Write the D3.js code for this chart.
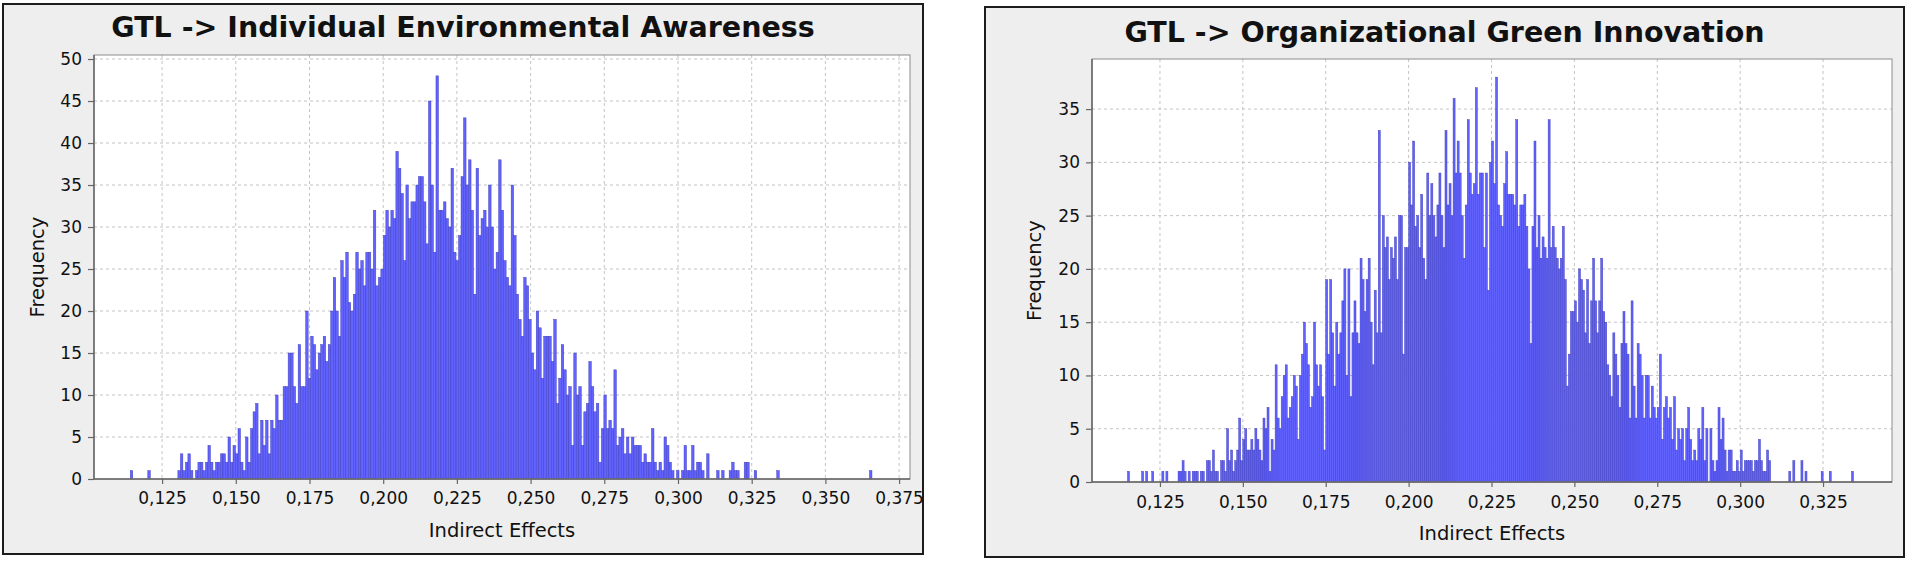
<!DOCTYPE html>
<html><head><meta charset="utf-8">
<script src="https://cdn.jsdelivr.net/npm/d3@7"></script>
<style>
body{margin:0;background:#fff;}
svg{display:block;}
text{font-family:"DejaVu Sans",sans-serif;fill:#111;}
</style>
</head><body>
<svg id="chart" width="1908" height="562"></svg>
<script>
// ---------- DATA ----------
const titleLeft = "GTL -> Individual Environmental Awareness";
const titleRight = "GTL -> Organizational Green Innovation";
const xAxisLabel = "Indirect Effects";
const yAxisLabel = "Frequency";

// histogram bins: value of bin i starts at start + i*width
const startLeft = 0.1142;
const binWidthLeft = 0.00085;
const countsLeft = [
1,0,0,0,0,0,0,1,0,0, 0,0,0,0,0,0,0,0,0,1, 3,1,2,3,1,0,1,2,2,1,
2,4,2,1,2,2,3,3,2,5, 2,4,3,6,2,1,5,2,6,8, 9,3,7,4,7,3,7,6,10,7,
7,11,11,15,15,11,9,
16,11,11,20,12,17,16,13,15,16, 17,14,16,20,24,20,17,26,24,27,
21,20,22,27,25,26,23,27,27,25, 32,23,24,25,29,32,30,32,31,39,
37,34,26,35,31,33,33,35,36,36, 33,28,45,35,27,48,32,32,33,31,
30,37,27,26,29,36,43,35,38,32, 22,37,29,31,32,30,35,30,25,27,
38,32,26,24,23,35,29,22,19,17, 24,23,19,15,13,20,18,12,17,17,
17,14,19,9,12,16,13,10,11,4, 15,10,11,4,8,9,14,11,8,9,
2,6,10,6,7,6,13,4,5,6, 3,5,
3,5,4,4,4,2,3,2,2,6, 2,1,2,1,5,4,2,1,0,1, 0,1,4,1,1,4,1,2,2,1,
0,3,0,0,0,1,0,1,0,0, 1,2,1,1,0,0,2,2,0,0, 1,0,0,0,0,0,0,0,0,1,
0,0,0,0,0,0,0,0,0,0, 0,0,0,0,0,0,0,0,0,0, 0,0,0,0,0,0,0,0,0,0, 0,0,0,0,0,0,
1
];

const startRight = 0.1152;
const binWidthRight = 0.00061;
const countsRight = [
1,0,0,0,0,0,0,1,0,1, 0,0,1,0,0,0,0,1,0,1, 0,0,0,0,0,1,1,2,1,0,
1,0,1,1,1,0,1,1,0,2, 2,1,3,1,1,0,2,2,1,5, 2,3,1,2,3,6,2,4,5,3,
3,4,3,5,4,3,2,6,5,7, 1,4,3,11,6,5,8,10,11,6, 7,8,10,9,4,10,12,15,13,11,
7,8,15,11,9,
11,8,3,19,12,19,14,9,15,12, 14,17,20,10,20,8,14,17,14,13,
21,19,16,19,21,15,11,18,14,33, 14,25,22,23,19,22,21,23,19,25,
25,12,22,22,30,26,32,24,25,22, 27,21,19,29,25,28,25,23,26,29,
25,22,33,26,28,25,36,29,32,29, 25,21,26,34,29,27,28,37,27,29,
29,22,29,18,30,32,28,38,26,25, 24,28,31,27,27,27,26,34,24,26,
26,27,24,20,13,24,32,22,25,21, 23,22,21,34,22,24,22,21,20,21,
24,19,9,12,16,16,17,15,20,19, 18,14,19,13,17,21,17,14,17,21,
16,15,11,10,8,14,12,10,7,13, 16,13,12,6,17,9,6,13,12,10,
6,10,10,6,9,7,6,7,12,4, 7,8,6,7,4,8,3,5,4,5,
2,5,7,4,2,3,2,5,4,7, 2,5,0,5,2,1,2,7,
4,6,3,1,3,3,1,1,2,1, 3,1,2,2,2,2,1,2,2,4, 2,1,1,3,2,0,0,0,0,0,
0,0,0,0,1,0,2,0,0,0, 2,0,1,0,0,0,0,0,0,0, 1,0,0,0,1,0,0,0,0,0,
0,0,0,0,0,1
];

const xTicksLeft = [0.125,0.150,0.175,0.200,0.225,0.250,0.275,0.300,0.325,0.350,0.375];
const yTicksLeft = [0,5,10,15,20,25,30,35,40,45,50];
const xTicksRight = [0.125,0.150,0.175,0.200,0.225,0.250,0.275,0.300,0.325];
const yTicksRight = [0,5,10,15,20,25,30,35];

// ---------- LAYOUT ----------
const panels = [
  {title:titleLeft, counts:countsLeft, start:startLeft, w:binWidthLeft,
   xTicks:xTicksLeft, yTicks:yTicksLeft,
   frame:{x0:3,y0:4,x1:923,y1:554}, plot:{x0:94,y0:55,x1:910,y1:479},
   xDomain:[0.1019,0.3787], yMax:50.48,
   titleY:37, xLabelY:537, yLabelX:44, xTickPad:8},
  {title:titleRight, counts:countsRight, start:startRight, w:binWidthRight,
   xTicks:xTicksRight, yTicks:yTicksRight,
   frame:{x0:985,y0:7,x1:1904,y1:557}, plot:{x0:1092,y0:59,x1:1892,y1:482},
   xDomain:[0.1045,0.3458], yMax:39.7,
   titleY:42, xLabelY:540, yLabelX:1041, xTickPad:9}
];

const comma = d3.formatLocale({decimal:",", thousands:".", grouping:[3], currency:["",""]});
const fmtX = comma.format(".3f");
const fmtY = d3.format("d");

const svg = d3.select("#chart");

panels.forEach(p => {
  const g = svg.append("g");
  const f = p.frame, pl = p.plot;
  g.append("rect").attr("x",f.x0).attr("y",f.y0).attr("width",f.x1-f.x0).attr("height",f.y1-f.y0)
    .attr("fill","#eeeeee").attr("stroke","#1c1c1c").attr("stroke-width",2);

  g.append("text").attr("x",(f.x0+f.x1)/2).attr("y",p.titleY).attr("text-anchor","middle")
    .attr("font-size",28.5).attr("font-weight","bold").text(p.title);

  const x = d3.scaleLinear().domain(p.xDomain).range([pl.x0, pl.x1]);
  const y = d3.scaleLinear().domain([0,p.yMax]).range([pl.y1, pl.y0]);

  g.append("rect").attr("x",pl.x0).attr("y",pl.y0).attr("width",pl.x1-pl.x0).attr("height",pl.y1-pl.y0)
    .attr("fill","#ffffff");

  // grid
  g.append("g").selectAll("line").data(p.xTicks).join("line")
    .attr("x1",d=>x(d)).attr("x2",d=>x(d)).attr("y1",pl.y0).attr("y2",pl.y1)
    .attr("stroke","#c4c4c4").attr("stroke-width",1).attr("stroke-dasharray","3,3");
  g.append("g").selectAll("line").data(p.yTicks.filter(v=>v>0)).join("line")
    .attr("x1",pl.x0).attr("x2",pl.x1).attr("y1",d=>y(d)).attr("y2",d=>y(d))
    .attr("stroke","#c4c4c4").attr("stroke-width",1).attr("stroke-dasharray","3,3");

  // bars
  const bins = p.counts.map((c,i)=>({c, x0:p.start+i*p.w, x1:p.start+(i+1)*p.w})).filter(b=>b.c>0);
  g.append("g").selectAll("rect").data(bins).join("rect")
    .attr("x",b=>x(b.x0)).attr("width",b=>x(b.x1)-x(b.x0))
    .attr("y",b=>y(b.c)).attr("height",b=>y(0)-y(b.c))
    .attr("fill","#6262ff").attr("stroke","#3d3dbb").attr("stroke-width",0.45);

  // plot outline
  g.append("rect").attr("x",pl.x0).attr("y",pl.y0).attr("width",pl.x1-pl.x0).attr("height",pl.y1-pl.y0)
    .attr("fill","none").attr("stroke","#8c8c8c").attr("stroke-width",1);

  // axes
  const ay = g.append("g").attr("transform",`translate(${pl.x0},0)`)
    .call(d3.axisLeft(y).tickValues(p.yTicks).tickFormat(fmtY).tickSize(6).tickSizeOuter(0).tickPadding(6));
  const ax = g.append("g").attr("transform",`translate(0,${pl.y1})`)
    .call(d3.axisBottom(x).tickValues(p.xTicks).tickFormat(fmtX).tickSize(5).tickSizeOuter(0).tickPadding(p.xTickPad));
  [ax,ay].forEach(a=>{
    a.select(".domain").remove();
    a.selectAll(".tick line").attr("stroke","#666").attr("stroke-width",1.2);
    a.selectAll(".tick text").attr("font-family","DejaVu Sans").attr("font-size",17).attr("fill","#1a1a1a");
  });
  g.append("line").attr("x1",pl.x0).attr("x2",pl.x0).attr("y1",pl.y0).attr("y2",pl.y1)
    .attr("stroke","#666").attr("stroke-width",1.5);
  g.append("line").attr("x1",pl.x0).attr("x2",pl.x1).attr("y1",pl.y1).attr("y2",pl.y1)
    .attr("stroke","#666").attr("stroke-width",1.5);

  g.append("text").attr("x",(pl.x0+pl.x1)/2).attr("y",p.xLabelY).attr("text-anchor","middle")
    .attr("font-size",19.5).text(xAxisLabel);
  g.append("text").attr("transform",`translate(${p.yLabelX},${(pl.y0+pl.y1)/2}) rotate(-90)`)
    .attr("text-anchor","middle").attr("font-size",19.5).text(yAxisLabel);
});
</script>
</body></html>
